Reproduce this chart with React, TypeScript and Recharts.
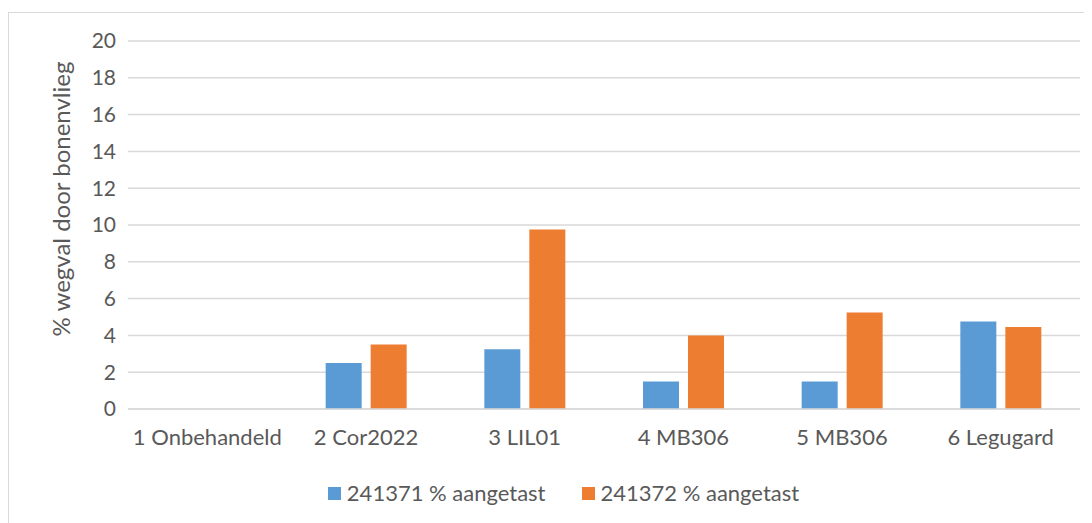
import { BarChart, Bar, XAxis, YAxis, CartesianGrid, Legend } from 'recharts'

const categories = ['1 Onbehandeld', '2 Cor2022', '3 LIL01', '4 MB306', '5 MB306', '6 Legugard']
const series241371 = [0, 2.5, 3.25, 1.5, 1.5, 4.75]
const series241372 = [0, 3.5, 9.75, 4, 5.25, 4.45]
const yTicks = [0, 2, 4, 6, 8, 10, 12, 14, 16, 18, 20]

const seriesNames = ['241371 % aangetast', '241372 % aangetast']
const seriesColors = ['#5b9bd5', '#ed7d31']

const data = categories.map((name, i) => ({
  name,
  a: series241371[i],
  b: series241372[i],
}))

const FONT = 'Lato, "Open Sans", sans-serif'
const TEXT = '#595959'

function LegendContent() {
  return (
    <div style={{ display: 'flex', justifyContent: 'center', gap: 36, paddingLeft: 38, fontFamily: FONT, fontSize: 22, color: TEXT, lineHeight: '24px' }}>
      {seriesNames.map((n, i) => (
        <div key={n} style={{ display: 'flex', alignItems: 'center' }}>
          <span style={{ width: 13, height: 13, background: seriesColors[i], marginRight: 6, display: 'inline-block' }} />
          {n}
        </div>
      ))}
    </div>
  )
}

export default function App() {
  return (
    <div style={{ marginTop: 4, width: 1100, height: 530, border: '1px solid #d9d9d9', position: 'relative' }}>
      <BarChart
        width={1083}
        height={510}
        data={data}
        margin={{ top: 28, right: 12, left: 0, bottom: 18 }}
        barGap={9}
        barSize={36}
      >
        <CartesianGrid vertical={false} stroke="#d9d9d9" strokeWidth={1.5} />
        <XAxis
          dataKey="name"
          axisLine={{ stroke: '#d9d9d9', strokeWidth: 1.5 }}
          tickLine={false}
          tickSize={0}
          tickMargin={20}
          height={72}
          tick={{ fill: TEXT, fontSize: 22, fontFamily: FONT }}
          interval={0}
        />
        <YAxis
          width={119}
          domain={[0, 20]}
          ticks={yTicks}
          axisLine={false}
          tickLine={false}
          tickSize={0}
          tickMargin={12}
          tick={{ fill: TEXT, fontSize: 21, fontFamily: FONT }}
          label={{
            value: '% wegval door bonenvlieg',
            angle: -90,
            position: 'insideLeft',
            offset: 52,
            dy: -26,
            style: { fill: TEXT, fontSize: 24, fontFamily: FONT, textAnchor: 'middle' },
          }}
        />
        <Legend verticalAlign="bottom" content={<LegendContent />} />
        <Bar dataKey="a" name={seriesNames[0]} fill={seriesColors[0]} isAnimationActive={false} />
        <Bar dataKey="b" name={seriesNames[1]} fill={seriesColors[1]} isAnimationActive={false} />
      </BarChart>
    </div>
  )
}
